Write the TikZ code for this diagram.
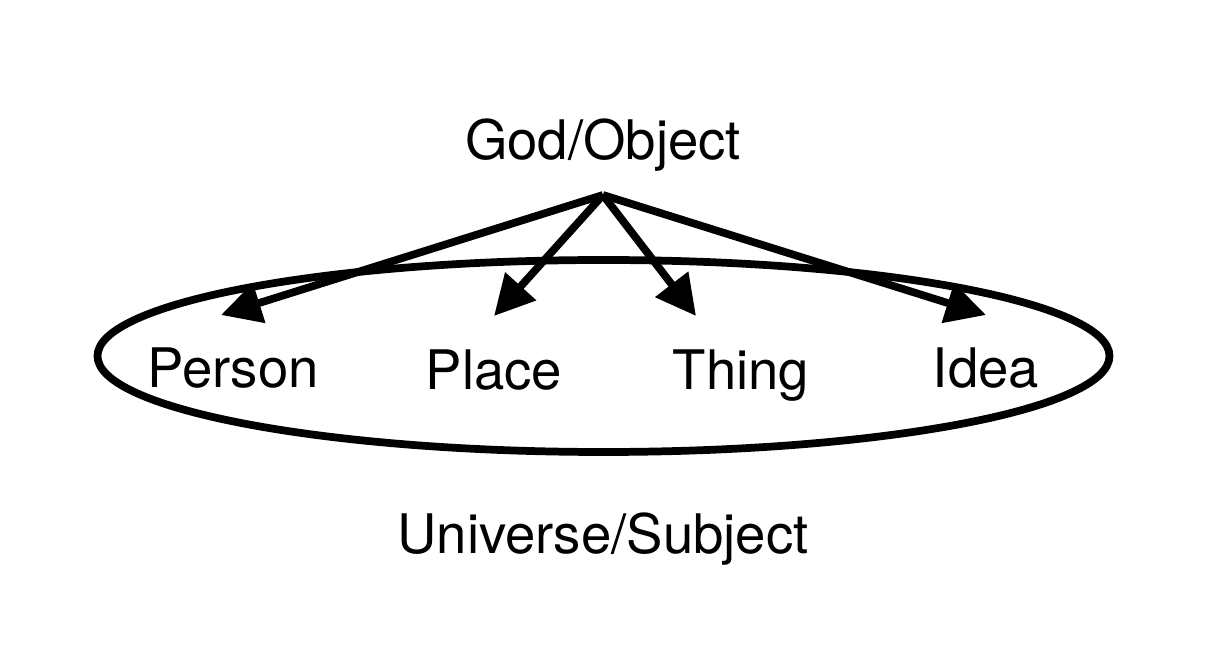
\documentclass[tikz,border=0pt]{standalone}
\usepackage{fontspec}
\setmainfont{TeX Gyre Heros}
\usetikzlibrary{arrows.meta}
\usetikzlibrary{positioning}
\tikzset{>={Triangle[length=0.4cm, width=0.4cm]}}
\tikzstyle{word} = [draw = none, inner sep = 1, anchor = base, font = \fontsize{15.5}{18}\selectfont]
\tikzstyle{ray} = [->, line width = 2.2pt, shorten >= 0pt]

\begin{document}
\begin{tikzpicture}[x = 0.01cm, y = -0.01cm]
\useasboundingbox (0, 0) rectangle (1206, 658);
%\node [draw=none] at (603,20) {top};
\draw [line width = 2.2pt] (603.5, 356) ellipse [x radius = 506, y radius = 96];
\node [word] (G) at (603, 160) {God/Object};
\node [word] (U) at (603, 553) {Universe/Subject};
\node [word] (P) at (233, 388) {Person};
\node [word] (Pl) at (494, 390) {Place};
\node [word] (T) at (741, 390) {Thing};
\node [word] (I) at (986, 388) {Idea};
\coordinate (apex) at (603, 195);
\coordinate (tP) at (221, 315);
\coordinate (tPl) at (494, 316);
\coordinate (tT) at (696, 316);
\coordinate (tI) at (986, 315);
\draw [ray] (apex) to (tP);
\draw [ray] (apex) to (tPl);
\draw [ray] (apex) to (tT);
\draw [ray] (apex) to (tI);
\end{tikzpicture}
\end{document}
